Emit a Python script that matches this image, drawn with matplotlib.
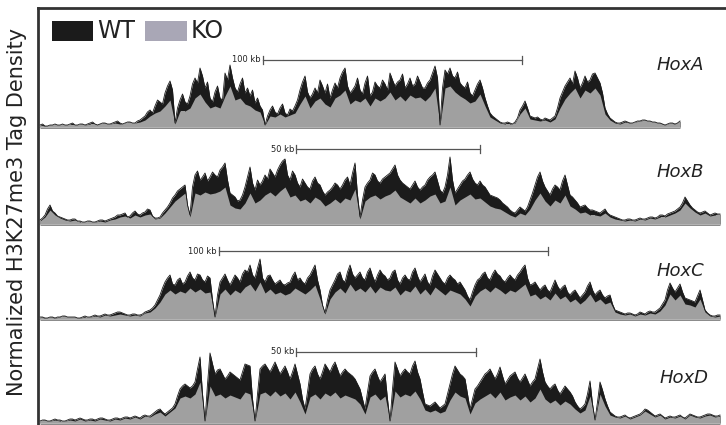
import numpy as np
import matplotlib
matplotlib.use("Agg")
import matplotlib.pyplot as plt
from matplotlib.patches import Rectangle
from matplotlib.lines import Line2D

W, H = 726, 425

genes = ["HoxA", "HoxB", "HoxC", "HoxD"]
scale_labels = ["100 kb", "50 kb", "100 kb", "50 kb"]

# WT signal (finer sampling) and KO signal, heights in px-like units
hoxA_wt = [3,4,2,2,3,3,4,3,3,4,3,3,4,5,3,3,4,4,3,4,5,6,4,3,4,5,5,4,4,5,6,7,5,4,5,6,6,5,5,7,
           8,10,12,16,18,15,22,28,26,24,35,42,47,38,5,20,28,34,26,24,32,44,50,45,60,52,40,46,30,26,
           36,42,30,28,55,48,63,50,40,36,44,50,35,40,32,38,25,30,22,18,3,12,18,22,16,14,20,24,15,13,
           19,17,22,28,38,46,52,36,30,34,40,35,48,42,35,44,30,38,45,40,50,56,60,42,35,38,42,50,38,34,
           45,52,32,36,46,42,40,48,44,38,55,48,42,46,48,54,40,44,50,42,44,52,46,40,40,45,48,55,62,50,
           3,40,58,54,60,52,50,56,45,42,40,46,35,32,38,44,48,40,30,22,15,12,10,8,6,5,5,6,5,4,
           6,10,18,22,27,20,12,11,10,11,9,8,10,9,8,10,12,20,30,36,42,46,50,44,57,50,40,45,52,46,
           48,54,55,50,45,35,20,14,10,8,6,5,5,6,7,6,5,5,6,7,7,8,8,7,7,6,6,5,5,4,3,4,5,5,4,5,7]
hoxA_ko = [3,2,3,3,3,3,3,3,3,3,4,4,4,4,4,5,4,5,5,5,6,8,12,15,17,22,28,4,17,17,20,30,34,26,20,22,20,32,42,28,
           30,24,22,18,16,3,12,11,14,11,13,15,24,32,20,27,30,24,21,30,33,38,24,28,26,30,22,30,27,30,36,28,32,27,33,
           30,31,27,32,40,3,40,42,36,32,29,25,27,34,22,11,8,5,4,4,5,14,20,9,8,7,8,6,9,20,29,35,40,30,38,35,40,
           33,14,8,5,4,6,5,6,7,8,7,6,5,3,5,4,7]

hoxB_wt = [5,7,10,16,20,14,12,9,8,7,6,5,5,6,6,4,4,3,3,4,4,3,3,4,5,5,4,5,6,7,8,10,10,11,12,8,9,12,14,11,
           10,12,13,16,15,9,7,7,8,12,15,18,22,27,30,34,36,38,40,20,10,38,50,54,45,48,52,44,48,53,50,48,55,58,62,45,
           32,30,28,24,25,30,38,48,58,42,35,45,40,44,50,46,56,52,48,55,60,64,66,50,45,54,50,42,38,46,42,38,
           36,44,48,42,40,34,30,33,35,38,42,40,36,40,45,48,40,52,62,30,8,25,38,42,45,52,50,44,42,46,48,50,
           52,56,60,50,45,42,40,38,36,40,44,38,35,38,40,45,48,50,53,44,35,32,38,50,68,45,32,36,40,44,46,50,
           53,46,42,40,44,40,38,34,30,29,28,27,25,22,20,18,15,13,12,15,18,16,14,18,25,32,40,48,53,44,38,34,
           30,36,40,38,35,44,50,40,30,28,25,22,18,19,20,17,15,15,14,13,12,14,16,12,10,9,8,7,6,5,5,6,6,5,
           5,6,7,6,6,7,8,8,7,8,10,10,9,11,12,13,14,16,18,22,28,24,20,17,15,13,12,13,14,12,10,11,12,11,11]
hoxB_ko = [4,8,15,10,7,5,4,5,3,3,3,3,4,3,5,6,8,9,7,10,8,10,11,6,7,12,18,24,28,32,8,32,30,33,31,32,34,38,20,17,
           16,22,32,22,25,30,33,29,34,38,28,30,24,26,22,28,25,19,22,26,22,27,25,36,6,24,28,30,26,29,31,35,28,25,22,
           27,22,25,29,31,22,24,38,20,25,28,31,26,27,23,19,17,16,13,10,8,12,10,16,25,32,24,19,25,22,30,19,16,12,13,
           10,10,9,12,8,6,5,4,5,4,6,5,7,6,8,8,10,12,15,22,17,13,10,12,9,10,10]

hoxC_wt = [3,3,2,2,3,3,2,3,3,4,4,3,3,3,3,2,2,3,4,3,3,4,5,4,4,5,6,5,5,6,7,8,8,7,6,5,5,6,6,5,
           5,6,8,9,10,12,15,20,25,32,38,42,45,36,35,40,42,36,38,44,48,42,40,46,45,40,38,44,42,20,3,25,38,42,
           46,40,35,40,45,42,38,46,50,48,55,45,42,52,61,42,38,44,45,40,36,38,40,36,35,37,38,44,48,40,42,38,
           36,42,45,50,55,40,30,15,7,20,30,35,40,46,48,40,38,48,55,46,42,45,48,42,40,48,52,44,38,45,50,46,
           44,40,42,48,50,40,36,42,45,41,40,48,52,44,38,42,46,38,35,44,50,46,42,38,36,42,45,42,40,36,38,34,
           30,24,20,28,35,40,42,46,48,42,40,46,50,46,44,40,38,42,45,42,40,45,48,52,55,42,35,36,38,34,30,33,
           35,30,28,34,40,34,30,33,35,28,25,28,30,26,22,25,28,34,38,30,25,28,30,25,22,24,25,16,10,9,8,7,
           6,7,7,6,5,6,8,7,6,8,9,8,8,10,12,16,20,30,37,32,28,32,36,28,22,21,20,19,18,24,30,20,10,7,5,4,4,5,5]
hoxC_ko = [3,2,3,2,3,3,3,3,2,3,3,4,3,5,4,5,6,5,4,5,4,7,8,12,18,26,30,26,29,27,32,28,31,27,28,3,26,31,25,30,
           27,33,36,29,38,27,31,26,28,25,27,32,29,26,30,35,21,6,21,28,32,27,36,29,32,28,34,27,33,30,29,33,25,30,28,
           34,26,31,25,33,29,25,30,28,26,21,14,24,29,32,28,33,30,26,30,28,32,36,24,26,21,24,20,27,21,24,18,21,16,20,
           26,18,21,16,18,8,6,5,6,4,6,5,7,6,9,15,26,20,25,16,15,13,21,8,4,3,4]

hoxD_wt = [3,4,4,3,3,4,5,4,4,3,3,4,5,5,4,5,6,5,4,4,5,5,4,5,6,6,5,4,4,5,6,6,5,6,7,7,6,7,8,7,
           6,8,9,8,8,10,12,14,15,12,10,12,14,16,20,28,35,38,40,38,36,38,42,55,67,30,3,40,71,60,50,54,55,50,
           45,48,52,50,48,46,44,52,60,59,58,25,3,30,55,58,60,56,52,57,62,56,50,54,58,52,45,52,60,50,40,25,
           15,32,50,55,58,50,45,52,60,56,52,58,62,55,48,52,55,52,50,48,45,40,35,25,15,32,48,52,55,48,42,46,
           50,25,3,35,62,55,48,52,55,52,50,58,63,52,45,32,20,19,18,20,22,19,16,18,20,30,40,50,58,54,50,48,
           45,30,15,25,35,38,42,46,50,52,55,50,45,50,57,48,40,44,48,50,52,46,42,46,50,44,38,42,45,55,65,52,
           42,38,35,38,40,34,30,34,38,35,32,28,22,18,15,17,20,30,43,20,4,22,42,34,25,18,12,10,8,7,7,8,
           9,7,6,7,8,9,10,12,15,14,12,10,8,9,10,8,6,7,8,7,7,8,9,7,6,8,10,9,8,7,7,8,9,10,10,9,8,8,9]
hoxD_ko = [3,3,3,4,3,3,4,3,5,3,4,3,5,4,3,5,4,6,5,7,5,8,7,10,12,8,12,16,26,28,26,30,42,3,38,28,30,26,29,27,
           25,32,30,3,30,32,28,33,28,31,25,32,22,10,27,30,25,31,28,32,26,29,27,25,20,10,27,30,24,28,3,33,27,30,28,
           33,25,14,12,14,11,13,24,32,28,26,10,21,25,28,31,26,32,24,27,29,24,28,22,26,35,25,21,24,19,23,20,15,11,14,
           28,4,30,18,9,7,6,8,5,7,9,13,10,7,9,5,7,6,8,5,9,7,6,8,9,7,8]

wt_series = [hoxA_wt, hoxB_wt, hoxC_wt, hoxD_wt]
ko_series = [hoxA_ko, hoxB_ko, hoxC_ko, hoxD_ko]

# layout (pixel geometry)
track_span = [(40, 680), (40, 720), (40, 720), (40, 720)]
baselines = [128, 225, 320, 424]
panel_h = 95
bar_px = [(263, 522, 60), (296, 480, 149), (219, 548, 251), (296, 476, 352)]
label_pos = [(657, 65), (657, 172), (657, 271), (660, 378)]

WT_C = "#1b1b1b"
KO_C = "#a0a0a0"
LEG_KO = "#a9a7b6"
NARROW = ["Liberation Sans Narrow", "DejaVu Sans"]

fig = plt.figure(figsize=(W / 100, H / 100), dpi=100)


def fx(x):
    return x / W


def fy(y):
    return 1 - y / H


for i in range(4):
    b = baselines[i]
    ax = fig.add_axes([fx(39), fy(b), fx(726) - fx(39), panel_h / H])
    wt = np.array(wt_series[i], dtype=float)
    ko = np.array(ko_series[i], dtype=float)
    s0, s1 = track_span[i]
    xw = np.linspace(s0, s1, len(wt))
    xk = np.linspace(s0, s1, len(ko))
    ax.plot([s0, s1], [0.4, 0.4], color="#b8b8b8", lw=1.2)
    wpoly = ax.fill_between(xw, 0, wt, color=WT_C, lw=0)
    kpoly = ax.fill_between(xk, 0, ko, color=KO_C, lw=0)
    kpoly.set_clip_path(wpoly.get_paths()[0], ax.transData)
    ax.plot(xw, wt, color=WT_C, lw=0.6)
    ax.set_xlim(39, 726)
    ax.set_ylim(0, panel_h)
    ax.axis("off")

    x1, x2, yb = bar_px[i]
    fig.add_artist(Line2D([fx(x1), fx(x2)], [fy(yb), fy(yb)], color="#555555", lw=0.9))
    for xe in (x1, x2):
        fig.add_artist(Line2D([fx(xe), fx(xe)], [fy(yb - 4), fy(yb + 4)], color="#555555", lw=0.9))
    fig.text(fx(x1 - 2), fy(yb), scale_labels[i], ha="right", va="center", fontsize=6,
             family=NARROW, color="#222222")
    lx, ly = label_pos[i]
    fig.text(fx(lx), fy(ly), genes[i], ha="left", va="center", fontsize=13, style="italic",
             family=NARROW, color="#222222")

# frame
fig.add_artist(Line2D([fx(38), fx(726)], [fy(8), fy(8)], color="#333333", lw=2))
fig.add_artist(Line2D([fx(38), fx(38)], [fy(8), fy(425)], color="#333333", lw=2))

# legend
fig.add_artist(Rectangle((fx(52), fy(41)), fx(93) - fx(52), (41 - 21) / H, color=WT_C, lw=0))
fig.add_artist(Rectangle((fx(145), fy(41)), fx(187) - fx(145), (41 - 21) / H, color=LEG_KO, lw=0))
fig.text(fx(97), fy(31), "WT", ha="left", va="center", fontsize=17, family=NARROW, color="#222222")
fig.text(fx(191), fy(31), "KO", ha="left", va="center", fontsize=17, family=NARROW, color="#222222")

fig.text(fx(17), fy(212), "Normalized H3K27me3 Tag Density", rotation=90, ha="center", va="center",
         fontsize=15, family=["DejaVu Sans"], color="#222222")

fig.savefig("out.png", dpi=100)
